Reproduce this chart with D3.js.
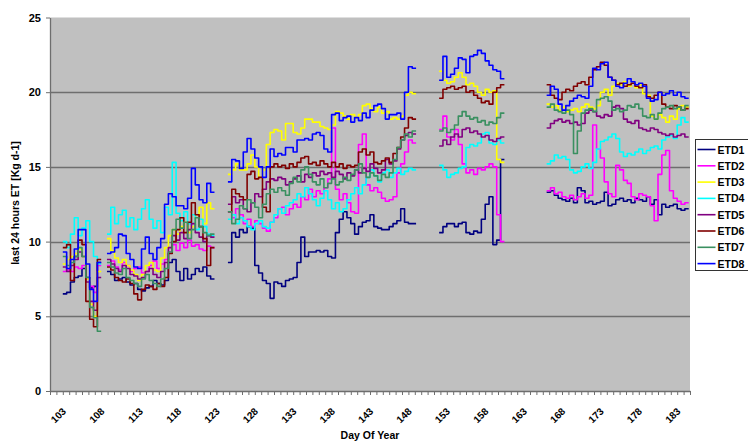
<!DOCTYPE html>
<html>
<head>
<meta charset="utf-8">
<script src="https://cdn.jsdelivr.net/npm/d3@7"></script>
<style>
  body { margin: 0; background: #ffffff; }
  text { font-family: "Liberation Sans", Arial, sans-serif; font-weight: bold; fill: #000; }
</style>
</head>
<body>
<svg id="chart" width="748" height="442"></svg>
<script>
// ---- data -------------------------------------------------------------
const seriesNames = ["ETD1", "ETD2", "ETD3", "ETD4", "ETD5", "ETD6", "ETD7", "ETD8"];
const seriesColors = ["#000080", "#ff00ff", "#ffff00", "#00ffff", "#800080", "#800000", "#3a9060", "#0000ff"];

// measurement blocks: first day of each block, number of half-day samples
const segmentStarts = [103.0, 108.75, 124.5, 152.0, 166.0];
const segmentLengths = [10, 28, 49, 17, 37];
const sampleStep = 0.5; // days

const etd1 = [
  6.5, 6.6, 7.3, 7.6, 7.7, 8.2, 7.6, 6.9, 7.0, 8.6,
  8.0, 7.8, 7.4, 7.5, 7.6, 7.3, 7.1, 7.2, 6.8, 6.7, 6.9, 7.0, 7.4, 7.2, 7.1, 7.4, 8.6, 8.8, 8.0, 7.4, 8.2, 7.5, 7.8, 8.2, 8.0, 8.3, 7.7, 7.5,
  8.6, 10.6, 10.3, 10.8, 10.6, 11.0, 10.9, 8.4, 7.9, 7.4, 7.2, 6.2, 7.3, 7.2, 7.0, 7.4, 7.5, 7.6, 8.6, 10.3, 9.0, 9.3, 9.3, 9.4, 9.3, 9.4, 9.0, 8.9, 10.6, 11.5, 12.0, 11.6, 11.2, 10.5, 11.0, 11.3, 11.4, 11.8, 11.0, 10.9, 10.8, 10.8, 11.0, 11.2, 11.4, 12.2, 11.3, 11.2, 11.2,
  10.6, 11.0, 11.2, 11.2, 11.0, 11.2, 11.3, 10.6, 10.5, 10.7, 10.6, 11.5, 12.5, 13.0, 9.8, 10.1, 15.5,
  13.3, 13.4, 13.1, 12.9, 12.8, 12.7, 12.9, 12.6, 13.6, 13.4, 12.6, 12.7, 12.5, 12.6, 12.7, 13.3, 12.4, 12.5, 12.8, 12.9, 12.7, 12.8, 12.6, 12.9, 12.8, 12.7, 13.0, 12.5, 12.8, 11.8, 12.5, 12.3, 12.4, 12.5, 12.2, 12.1, 12.2
];
const etd2 = [
  8.0, 8.1, 8.0, 8.3, 8.2, 8.4, 7.5, 7.0, 6.6, 8.4,
  8.4, 8.7, 8.3, 8.1, 8.6, 8.4, 8.0, 8.2, 8.3, 7.9, 8.0, 8.4, 8.7, 8.2, 8.5, 8.8, 9.3, 9.8, 9.4, 9.9, 9.6, 10.1, 9.7, 9.8, 9.5, 9.4, 9.7, 9.6,
  12.0, 11.6, 12.2, 11.8, 11.2, 11.5, 11.0, 11.4, 11.2, 10.9, 10.7, 11.3, 11.6, 12.2, 12.3, 11.8, 12.2, 12.5, 12.3, 13.0, 12.8, 13.5, 13.0, 13.4, 13.2, 13.6, 14.2, 17.6, 13.5, 12.8, 13.2, 12.6, 12.0, 11.9, 16.5, 17.2, 13.8, 13.4, 13.6, 13.3, 12.9, 12.7, 12.8, 13.0, 14.6, 15.2, 16.0, 16.8, 16.6,
  17.5, 18.4, 17.0, 16.8, 17.5, 16.5, 15.2, 14.6, 14.8, 14.5, 14.9, 14.8, 15.0, 15.2, 15.0, 11.8, 10.0,
  13.4, 13.6, 13.2, 13.3, 13.0, 12.9, 13.1, 12.8, 13.0, 13.2, 12.9, 13.1, 17.8, 16.2, 15.6, 14.0, 13.2, 13.0, 15.1, 14.8, 14.1, 13.9, 13.0, 12.8, 13.2, 13.1, 13.0, 12.4, 11.4, 14.5, 15.8, 16.1, 13.4, 12.9, 12.7, 12.5, 12.6
];
const etd3 = [
  8.5, 8.8, 9.0, 9.2, 9.5, 9.0, 7.5, 5.8, 5.0, 8.0,
  10.2, 9.4, 8.9, 8.6, 8.8, 8.4, 8.1, 7.8, 7.4, 7.8, 8.4, 8.6, 8.1, 8.0, 8.9, 9.6, 10.4, 10.8, 10.5, 11.0, 11.3, 10.6, 11.0, 11.8, 12.3, 11.2, 12.6, 12.2,
  14.5, 14.8, 15.2, 14.8, 14.8, 15.2, 15.8, 15.0, 14.3, 14.8, 16.5, 17.3, 17.5, 17.4, 16.8, 17.9, 17.9, 17.3, 17.2, 17.6, 18.2, 18.2, 18.0, 18.0, 17.7, 17.6, 17.5, 17.8, 18.7, 18.6, 18.4, 18.2, 18.5, 18.3, 18.5, 19.1, 19.2, 18.9, 18.7, 19.0, 18.6, 18.7, 18.2, 18.3, 18.2, 18.4, 19.8, 20.0, 19.9,
  21.4, 20.8, 20.6, 20.7, 21.0, 21.3, 21.0, 20.5, 20.6, 20.4, 20.0, 19.8, 20.2, 20.0, 20.1, 15.5, 15.3,
  19.2, 19.0, 19.1, 18.8, 19.0, 18.7, 18.8, 18.9, 18.7, 19.0, 19.2, 19.0, 18.9, 19.1, 20.0, 20.2, 19.8, 20.4, 20.6, 20.5, 20.7, 20.4, 20.6, 20.3, 20.5, 19.9, 19.8, 18.4, 18.2, 18.5, 18.3, 18.0, 18.4, 18.2, 18.9, 19.1, 19.0
];
const etd4 = [
  10.0, 9.6, 10.5, 11.6, 10.4, 10.9, 11.4, 10.0, 9.0, 8.5,
  10.5, 12.3, 11.2, 11.8, 12.1, 11.0, 11.6, 10.8, 11.5, 12.2, 12.8, 11.5, 10.9, 11.4, 10.6, 12.3, 11.8, 15.3, 11.9, 11.4, 12.0, 11.2, 11.8, 10.8, 11.5, 11.0, 10.5, 10.4,
  11.5, 11.8, 11.2, 11.6, 11.4, 11.0, 10.8, 11.2, 11.4, 11.0, 10.9, 11.3, 11.8, 12.2, 11.9, 12.4, 12.6, 12.8, 13.2, 13.0, 13.6, 13.2, 12.8, 12.4, 12.9, 13.4, 12.8, 12.2, 12.6, 12.0, 12.2, 12.8, 13.2, 13.6, 13.2, 13.8, 14.3, 14.8, 14.4, 14.0, 14.6, 14.8, 14.3, 14.6, 14.9, 14.5, 14.7, 14.9, 14.8,
  15.1, 14.8, 14.3, 14.5, 14.6, 14.9, 15.0, 16.3, 16.5, 16.4, 16.6, 17.2, 17.3, 16.6, 16.5, 16.8, 16.6,
  15.2, 15.4, 15.8, 15.6, 15.7, 15.5, 14.8, 14.6, 14.7, 15.0, 15.2, 14.9, 15.3, 16.2, 16.7, 16.8, 17.0, 17.2, 16.9, 16.0, 15.7, 15.9, 15.8, 16.0, 16.2, 15.9, 16.1, 16.3, 16.4, 16.2, 16.8, 17.0, 17.1, 16.9, 17.8, 18.3, 18.0
];
const etd5 = [
  8.3, 8.0, 8.4, 8.8, 9.3, 9.0, 7.3, 6.0, 5.4, 7.6,
  8.8, 8.5, 8.2, 8.0, 8.4, 8.2, 7.8, 7.7, 7.5, 7.6, 8.0, 8.2, 7.8, 7.6, 8.0, 8.6, 9.6, 10.4, 10.1, 10.6, 10.2, 10.8, 11.2, 10.6, 10.3, 10.0, 10.4, 10.3,
  12.5, 13.0, 12.6, 12.8, 12.2, 12.0, 12.6, 13.2, 13.0, 13.5, 14.0, 14.2, 14.1, 14.3, 14.2, 13.8, 14.0, 14.2, 14.4, 14.0, 14.5, 14.3, 14.6, 14.4, 14.7, 14.5, 14.6, 14.3, 14.7, 14.5, 14.2, 14.6, 14.4, 14.8, 14.6, 14.9, 14.7, 15.2, 14.9, 14.6, 14.8, 15.5, 15.2, 15.4, 16.2, 16.8, 17.1, 17.3, 17.2,
  16.4, 16.8, 16.5, 17.0, 17.2, 17.0, 17.5, 17.6, 17.3, 17.4, 17.2, 17.0, 17.1, 16.8, 16.7, 16.9, 17.0,
  17.6, 17.9, 18.1, 18.2, 18.0, 18.1, 17.9, 18.0, 17.8, 17.9, 18.6, 18.8, 18.7, 18.4, 18.3, 18.5, 18.4, 19.0, 19.1, 18.9, 18.2, 18.0, 17.9, 18.1, 17.6, 17.5, 17.4, 17.6, 17.5, 17.3, 17.2, 17.1, 17.2, 17.0, 17.1, 17.2, 17.0
];
const etd6 = [
  9.6, 9.8, 7.4, 9.0, 10.1, 9.8, 6.0, 4.8, 4.3, 8.8,
  8.3, 8.1, 7.6, 7.4, 7.3, 7.5, 7.2, 6.5, 6.1, 6.8, 7.1, 7.0, 6.8, 7.2, 7.0, 7.6, 9.2, 10.0, 10.8, 11.6, 10.6, 11.3, 12.6, 11.8, 11.0, 10.2, 8.4, 9.6,
  12.0, 13.5, 13.2, 13.0, 12.8, 14.5, 14.7, 14.2, 14.3, 12.3, 12.0, 15.0, 15.2, 15.0, 15.1, 14.9, 15.2, 15.0, 15.3, 15.6, 15.7, 15.2, 15.3, 15.1, 15.4, 15.2, 15.0, 15.3, 15.0, 15.2, 14.9, 15.1, 15.0, 15.1, 16.0, 16.2, 15.8, 16.0, 15.3, 15.2, 15.4, 15.6, 15.3, 15.9, 16.3, 17.0, 17.6, 18.3, 18.2,
  19.6, 20.2, 20.3, 20.4, 20.2, 20.3, 20.4, 20.0, 20.1, 19.8, 19.6, 19.3, 19.4, 19.2, 20.0, 20.3, 20.5,
  20.5, 19.8, 19.6, 19.5, 20.0, 20.2, 20.1, 20.4, 20.6, 20.7, 20.5, 21.0, 21.5, 21.7, 22.0, 21.8, 21.0, 20.8, 20.5, 20.6, 20.4, 20.5, 20.6, 20.4, 20.3, 20.5, 19.7, 19.6, 19.8, 20.0, 19.2, 19.0, 18.9, 19.1, 19.0, 18.8, 18.9
];
const etd7 = [
  9.0, 8.4, 8.6, 9.0, 9.6, 9.0, 7.6, 5.6, 4.9, 4.0,
  8.6, 8.3, 7.9, 7.8, 8.2, 7.6, 7.4, 7.2, 7.0, 7.5, 7.8, 7.4, 7.2, 7.0, 7.5, 8.2, 9.3, 10.8, 11.5, 10.9, 11.3, 10.2, 10.8, 11.6, 11.0, 10.6, 10.4, 10.5,
  12.0, 11.2, 11.5, 12.4, 12.2, 12.8, 12.6, 12.3, 11.6, 12.5, 13.2, 13.5, 13.3, 13.6, 13.4, 13.1, 13.9, 14.3, 14.0, 14.8, 15.0, 14.5, 14.0, 13.8, 14.2, 13.6, 13.9, 14.2, 13.8, 14.0, 14.3, 14.1, 14.5, 14.8, 15.2, 14.6, 14.3, 14.6, 14.4, 14.1, 14.5, 14.3, 14.6, 15.5, 16.3, 16.8, 17.2, 17.0, 17.4,
  17.4, 17.6, 17.3, 17.5, 17.8, 18.4, 18.7, 18.4, 18.2, 18.3, 18.0, 18.1, 17.8, 18.0, 17.9, 18.3, 18.6,
  19.0, 19.2, 18.8, 18.7, 18.6, 18.8, 18.5, 15.9, 17.4, 18.6, 18.8, 18.9, 18.7, 19.5, 19.6, 19.7, 19.4, 18.8, 18.9, 18.7, 18.8, 19.1, 19.0, 19.2, 18.9, 18.4, 18.3, 18.5, 18.2, 18.6, 18.9, 19.0, 19.1, 18.9, 19.0, 18.8, 19.1
];
const etd8 = [
  9.3, 8.2, 8.8, 9.5, 10.8, 10.8, 8.5, 6.8, 6.0, 8.6,
  9.2, 9.3, 9.6, 10.5, 10.4, 9.2, 8.8, 8.3, 8.2, 9.5, 10.3, 9.2, 8.8, 9.6, 10.2, 12.5, 13.2, 13.0, 12.4, 12.4, 12.2, 12.9, 14.9, 13.8, 12.8, 12.6, 13.9, 13.3,
  14.0, 15.5, 15.4, 14.9, 16.0, 16.9, 16.2, 15.6, 15.0, 14.3, 15.0, 16.2, 15.7, 15.9, 15.8, 16.3, 16.3, 16.0, 16.8, 16.8, 16.9, 16.8, 17.2, 17.3, 17.1, 16.2, 16.0, 18.5, 18.6, 18.1, 18.3, 18.4, 18.0, 18.3, 18.1, 18.6, 18.3, 18.8, 19.1, 19.2, 18.9, 18.2, 18.5, 18.5, 18.6, 18.2, 20.0, 21.7, 21.6,
  20.8, 22.4, 21.0, 21.2, 21.6, 22.3, 22.2, 21.3, 22.4, 22.5, 22.8, 22.6, 22.1, 21.8, 21.5, 21.4, 20.9,
  19.8, 20.4, 20.2, 19.2, 18.8, 19.1, 19.4, 19.6, 19.8, 19.7, 19.6, 20.4, 21.6, 21.5, 21.9, 22.0, 21.0, 20.8, 20.4, 20.3, 20.6, 20.9, 20.7, 20.5, 20.6, 20.4, 19.6, 19.4, 19.5, 20.0, 19.8, 19.9, 20.1, 19.8, 20.0, 19.7, 19.6
];
const seriesValues = [etd1, etd2, etd3, etd4, etd5, etd6, etd7, etd8];

const yTickValues = [0, 5, 10, 15, 20, 25];
const xTickLabels = [103, 108, 113, 118, 123, 128, 133, 138, 143, 148, 153, 158, 163, 168, 173, 178, 183];
const yAxisTitle = "last 24 hours ET [Kg d-1]";
const xAxisTitle = "Day Of Year";

// ---- layout -----------------------------------------------------------
const plot = { left: 50, right: 690, top: 17.5, bottom: 391 };
const dayMin = 101 + 1 / 3, dayMax = 184 + 2 / 3;   // axis spans 100 minor intervals of 5/6 day
const minorStep = 5 / 6;

const svg = d3.select("#chart");
const x = d3.scaleLinear().domain([dayMin, dayMax]).range([plot.left, plot.right]);
const y = d3.scaleLinear().domain([0, 25]).range([plot.bottom, plot.top]);

// plot area
svg.append("rect")
  .attr("x", plot.left).attr("y", plot.top)
  .attr("width", plot.right - plot.left).attr("height", plot.bottom - plot.top)
  .attr("fill", "#c0c0c0");

// horizontal gridlines
svg.append("g").selectAll("line")
  .data(yTickValues.filter(v => v > 0 && v < 25))
  .join("line")
  .attr("x1", plot.left).attr("x2", plot.right)
  .attr("y1", d => Math.round(y(d)) + 0.5).attr("y2", d => Math.round(y(d)) + 0.5)
  .attr("stroke", "#6e6e6e").attr("stroke-width", 1.3);

// series lines, one path per measurement block
svg.append("clipPath").attr("id", "plotClip")
  .append("rect").attr("x", plot.left).attr("y", plot.top)
  .attr("width", plot.right - plot.left).attr("height", plot.bottom - plot.top);

const line = d3.line()
  .x(d => x(d[0])).y(d => y(d[1]))
  .curve(d3.curveStepAfter);

function blocks(values) {
  const out = [];
  let offset = 0;
  segmentStarts.forEach((start, s) => {
    const n = segmentLengths[s];
    const pts = values.slice(offset, offset + n).map((v, i) => [start + i * sampleStep, v]);
    // each sample holds until the next one, so close the last interval
    pts.push([start + n * sampleStep, pts[pts.length - 1][1]]);
    out.push(pts);
    offset += n;
  });
  return out;
}

const linesG = svg.append("g").attr("clip-path", "url(#plotClip)");
seriesValues.forEach((vals, si) => {
  linesG.append("g").selectAll("path")
    .data(blocks(vals))
    .join("path")
    .attr("d", line)
    .attr("fill", "none")
    .attr("stroke", seriesColors[si])
    .attr("stroke-width", 1.6)
    .attr("stroke-linejoin", "round");
});

// y axis
const yAxis = d3.axisLeft(y).tickValues(yTickValues).tickSize(4).tickSizeOuter(0).tickPadding(5);
const yG = svg.append("g").attr("transform", `translate(${plot.left},0)`).call(yAxis);
yG.select(".domain").attr("stroke", "#6e6e6e").attr("stroke-width", 1.3);
yG.selectAll(".tick line").attr("stroke", "#6e6e6e");
yG.selectAll(".tick text").style("font-size", "11px").style("font-weight", "bold")
  .attr("font-family", "Liberation Sans, Arial, sans-serif");

// x axis: minor ticks every 5/6 day, labels every fifth day
const minorTicks = d3.range(0, 101).map(k => dayMin + k * minorStep);
const xAxis = d3.axisBottom(x).tickValues(minorTicks).tickFormat("").tickSize(4).tickSizeOuter(0);
const xG = svg.append("g").attr("transform", `translate(0,${plot.bottom})`).call(xAxis);
xG.select(".domain").attr("stroke", "#6e6e6e").attr("stroke-width", 1.3);
xG.selectAll(".tick line").attr("stroke", "#6e6e6e");

// slanted day labels: each label sits in its own rotated group, ending just right of its tick
const labelG = svg.append("g");
labelG.selectAll("g.daylabel")
  .data(xTickLabels)
  .join("g")
  .attr("class", "daylabel")
  .attr("transform", d => `translate(${x(d) + 4},${plot.bottom + 21}) rotate(-45)`)
  .append("text")
  .attr("x", 0).attr("y", 0)
  .attr("text-anchor", "end")
  .style("font-size", "10px")
  .text(d => d);

// axis titles
svg.append("text")
  .attr("transform", "translate(18.5,203) rotate(-90)")
  .attr("text-anchor", "middle")
  .style("font-size", "10.5px")
  .text(yAxisTitle);

svg.append("text")
  .attr("x", 370).attr("y", 439)
  .attr("text-anchor", "middle")
  .style("font-size", "10.5px")
  .text(xAxisTitle);

// legend
const legend = svg.append("g").attr("transform", "translate(695.5,139.5)");
legend.append("rect")
  .attr("width", 70).attr("height", 131)
  .attr("fill", "#ffffff").attr("stroke", "#333").attr("stroke-width", 1);
const rowH = 16.3;
const rows = legend.selectAll("g.row").data(seriesNames).join("g")
  .attr("class", "row")
  .attr("transform", (d, i) => `translate(0,${10 + i * rowH})`);
rows.append("line")
  .attr("x1", 2).attr("x2", 20).attr("y1", 0).attr("y2", 0)
  .attr("stroke", (d, i) => seriesColors[i]).attr("stroke-width", 1.6);
rows.append("text")
  .attr("x", 22).attr("y", 4)
  .style("font-size", "10.5px")
  .text(d => d);
</script>
</body>
</html>
